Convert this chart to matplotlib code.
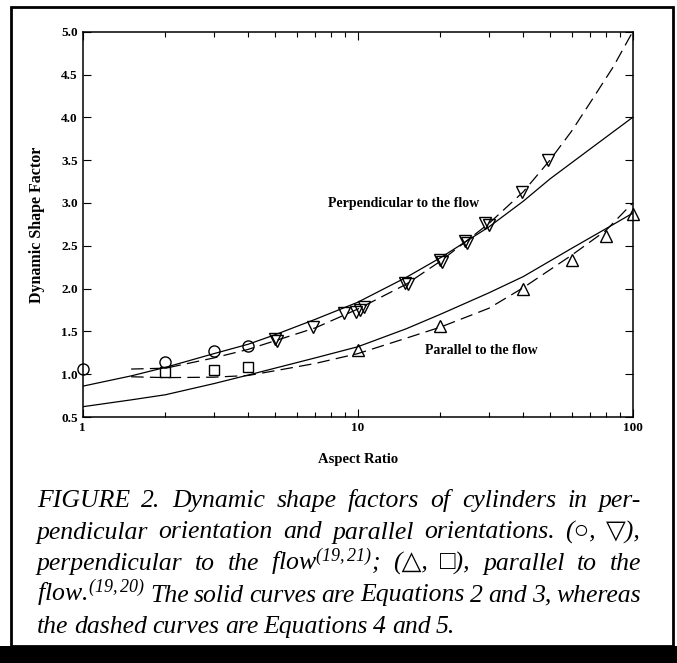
import numpy as np
import matplotlib
matplotlib.use("Agg")
import matplotlib.pyplot as plt
from matplotlib.patches import Rectangle
from matplotlib.ticker import FixedLocator, FuncFormatter, NullFormatter

plt.rcParams['font.family'] = ['Liberation Serif', 'DejaVu Sans']
plt.rcParams['mathtext.fontset'] = 'custom'
plt.rcParams['mathtext.rm'] = 'Liberation Serif:italic'
plt.rcParams['mathtext.it'] = 'Liberation Serif:italic'

# measured points - perpendicular to the flow
perp_circle_x = [1, 2, 3, 4]
perp_circle_y = [1.06, 1.14, 1.27, 1.33]
perp_tri_x = [5.0, 5.1, 6.9, 8.9, 9.9, 10.2, 10.5, 14.9, 15.2, 20, 20.3, 24.5, 25, 29, 30, 39.5, 49]
perp_tri_y = [1.41, 1.39, 1.55, 1.71, 1.73, 1.75, 1.79, 2.07, 2.05, 2.33, 2.31, 2.55, 2.53, 2.76, 2.74, 3.13, 3.50]

# measured points - parallel to the flow
par_square_x = [2, 3, 4]
par_square_y = [1.03, 1.05, 1.08]
par_tri_x = [10, 20, 40, 60, 80, 100]
par_tri_y = [1.28, 1.56, 1.99, 2.33, 2.61, 2.87]

# curves (Eq. 2,3 solid; Eq. 4,5 dashed)
perp_solid_x = [1, 1.5, 2, 3, 4, 5, 7, 10, 15, 20, 30, 40, 50, 70, 100]
perp_solid_y = [0.86, 0.98, 1.08, 1.24, 1.35, 1.46, 1.64, 1.84, 2.13, 2.36, 2.72, 3.02, 3.28, 3.63, 4.0]
perp_dash_x = [1.5, 2, 3, 4, 5, 7, 10, 15, 20, 30, 40, 50, 60, 70, 85, 100]
perp_dash_y = [1.06, 1.07, 1.19, 1.29, 1.39, 1.54, 1.76, 2.05, 2.32, 2.76, 3.13, 3.50, 3.84, 4.17, 4.59, 5.0]
par_solid_x = [1, 1.5, 2, 3, 4, 5, 7, 10, 15, 20, 30, 40, 60, 80, 100]
par_solid_y = [0.62, 0.70, 0.76, 0.89, 0.99, 1.07, 1.19, 1.32, 1.53, 1.70, 1.95, 2.14, 2.47, 2.70, 2.88]
par_dash_x = [1.5, 2, 3, 4, 5, 7, 10, 15, 20, 30, 40, 60, 80, 100]
par_dash_y = [0.97, 0.96, 0.965, 0.985, 1.04, 1.125, 1.24, 1.42, 1.55, 1.77, 2.01, 2.39, 2.68, 3.0]

y_ticks = [0.5, 1.0, 1.5, 2.0, 2.5, 3.0, 3.5, 4.0, 4.5, 5.0]
x_major = [1, 10, 100]

caption_lines = [
    "FIGURE 2. Dynamic shape factors of cylinders in per-",
    "pendicular orientation and parallel orientations. (\u25cb, \u25bd),",
    "perpendicular to the flow$^{(19,21)}$; (\u25b3, \u25a1), parallel to the",
    "flow.$^{(19,20)}$ The solid curves are Equations 2 and 3, whereas",
    "the dashed curves are Equations 4 and 5.",
]

W, H = 677, 663
fig = plt.figure(figsize=(W / 100, H / 100), dpi=100)
ax = fig.add_axes([82.7 / W, 1 - 417 / H, 550 / W, 385.3 / H])

lw = 0.9
ax.plot(perp_solid_x, perp_solid_y, color='black', lw=lw)
ax.plot(par_solid_x, par_solid_y, color='black', lw=lw)
ax.plot(perp_dash_x, perp_dash_y, color='black', lw=lw, dashes=(10, 5))
ax.plot(par_dash_x, par_dash_y, color='black', lw=lw, dashes=(10, 5))

mk = dict(linestyle='none', markerfacecolor='none', markeredgecolor='black',
          markeredgewidth=1.0, clip_on=False)
ax.plot(perp_circle_x, perp_circle_y, marker='o', markersize=8, **mk)
ax.plot(perp_tri_x, perp_tri_y, marker='v', markersize=8, **mk)
ax.plot(par_square_x, par_square_y, marker='s', markersize=7, **mk)
ax.plot(par_tri_x, par_tri_y, marker='^', markersize=8, **mk)

ax.set_xscale('log')
ax.set_xlim(1, 100)
ax.set_ylim(0.5, 5.0)
ax.xaxis.set_major_locator(FixedLocator(x_major))
ax.xaxis.set_major_formatter(FuncFormatter(lambda v, p: f"{v:g}"))
ax.xaxis.set_minor_formatter(NullFormatter())
ax.set_yticks(y_ticks)
ax.yaxis.set_major_formatter(FuncFormatter(lambda v, p: f"{v:.1f}"))
ax.tick_params(which='both', direction='in', top=True, right=True, width=0.8,
               labelsize=9.5)
ax.tick_params(which='major', length=6)
ax.tick_params(which='minor', length=3.5)
for lab in ax.get_xticklabels() + ax.get_yticklabels():
    lab.set_fontweight('bold')
for s in ax.spines.values():
    s.set_linewidth(1.1)

ax.set_xlabel("Aspect Ratio", fontsize=10.5, fontweight='bold', labelpad=14)
ax.set_ylabel("Dynamic Shape Factor", fontsize=11.5, fontweight='bold', labelpad=12)

fig.text(404 / W, 1 - 203 / H, "Perpendicular to the flow", ha='center', va='center',
         fontsize=10, fontweight='bold')
fig.text(481 / W, 1 - 351 / H, "Parallel to the flow", ha='center', va='center',
         fontsize=10, fontweight='bold')

# frame around the figure and black strip at the bottom
fig.patches.append(Rectangle((11 / W, 1 - 646 / H), 662 / W, 639 / H, transform=fig.transFigure,
                             fill=False, edgecolor='black', lw=2))
fig.patches.append(Rectangle((0, 0), 1, 17 / H, transform=fig.transFigure,
                             facecolor='black', edgecolor='none'))

# justified caption
fig.canvas.draw()
renderer = fig.canvas.get_renderer()
left, right = 37, 641
baselines = [507, 538.5, 570, 601.5, 633]
cap = dict(fontsize=18.5, style='italic', va='baseline', ha='left',
           family=['Liberation Serif', 'DejaVu Sans'])
for i, line in enumerate(caption_lines):
    words = line.split(' ')
    texts = [fig.text(0, 1 - baselines[i] / H, w, **cap) for w in words]
    widths = [t.get_window_extent(renderer).width for t in texts]
    if i < len(caption_lines) - 1:
        gap = (right - left - sum(widths)) / (len(words) - 1)
    else:
        gap = 5.5
    x = left
    for t, w in zip(texts, widths):
        t.set_x(x / W)
        x += w + gap

fig.savefig("out.png", dpi=100)
